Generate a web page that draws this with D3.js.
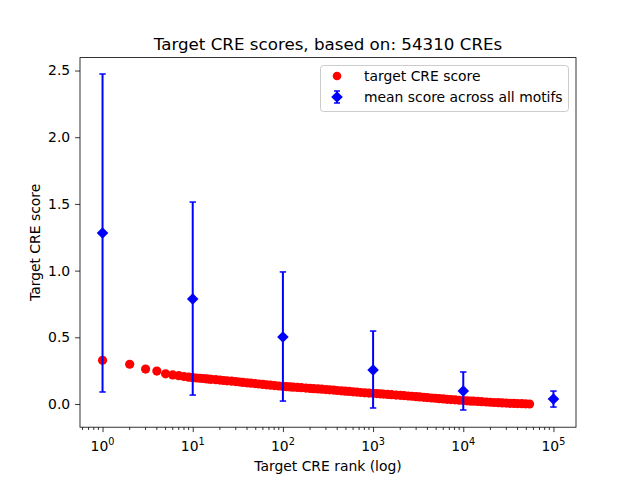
<!DOCTYPE html>
<html>
<head>
<meta charset="utf-8">
<script src="https://cdn.jsdelivr.net/npm/d3@7"></script>
<style>
  body { margin: 0; background: #fff; }
  text { font-family: "DejaVu Sans", sans-serif; fill: #000; }
</style>
</head>
<body>
<div id="chart"></div>
<script>
const ranks = [1, 2, 3, 4, 5, 6, 7, 8, 9,
  10, 11, 12, 13, 14, 15, 16, 18, 20, 22, 24, 27, 30, 33, 36, 40, 44, 49, 54, 60, 66, 73, 81, 90,
  100, 110, 120, 130, 145, 160, 180, 200, 220, 245, 270, 300, 330, 365, 400, 445, 490, 540, 600, 660, 730, 810, 900,
  1000, 1100, 1200, 1300, 1450, 1600, 1800, 2000, 2200, 2450, 2700, 3000, 3300, 3650, 4000, 4450, 4900, 5400, 6000, 6600, 7300, 8100, 9000,
  10000, 11000, 12000, 13000, 14500, 16000, 18000, 20000, 22000, 24500, 27000, 30000, 33000, 36500, 40000, 44500, 49000, 54310];
const scores = [0.328, 0.298, 0.262, 0.247, 0.226, 0.218, 0.212, 0.206, 0.201,
  0.197, 0.195, 0.193, 0.191, 0.189, 0.187, 0.185, 0.182, 0.179, 0.176, 0.174, 0.171, 0.168, 0.165, 0.162, 0.159, 0.156, 0.153, 0.150, 0.147, 0.144, 0.141, 0.138, 0.135,
  0.132, 0.130, 0.128, 0.126, 0.124, 0.122, 0.119, 0.117, 0.115, 0.113, 0.111, 0.108, 0.106, 0.104, 0.101, 0.099, 0.096, 0.094, 0.091, 0.089, 0.086, 0.084, 0.082,
  0.080, 0.078, 0.076, 0.074, 0.072, 0.070, 0.067, 0.065, 0.063, 0.060, 0.058, 0.055, 0.053, 0.050, 0.048, 0.045, 0.043, 0.040, 0.038, 0.035, 0.033, 0.031, 0.028,
  0.026, 0.024, 0.022, 0.021, 0.019, 0.017, 0.015, 0.013, 0.011, 0.010, 0.008, 0.007, 0.005, 0.004, 0.003, 0.002, 0.001, 0.000];

// mean score across all motifs with error bars
const meanRanks = [1, 10, 100, 1000, 10000, 100000];
const meanScores = [1.282, 0.787, 0.502, 0.255, 0.097, 0.037];
const errLow = [0.090, 0.067, 0.022, -0.030, -0.045, -0.023];
const errHigh = [2.474, 1.514, 0.990, 0.547, 0.240, 0.097];

const yTicks = [0.0, 0.5, 1.0, 1.5, 2.0, 2.5];
const xTicks = [1, 10, 100, 1000, 10000, 100000];

const width = 640, height = 480;
const margin = {top: 57.6, right: 64, bottom: 52.8, left: 80};

const svg = d3.select('#chart')
  .append('svg')
  .attr('width', width)
  .attr('height', height);

svg.append('rect').attr('width', width).attr('height', height).attr('fill', '#fff');

const x = d3.scaleLog()
  .domain([Math.pow(10, -0.25), Math.pow(10, 5.25)])
  .range([margin.left, width - margin.right]);

const y = d3.scaleLinear()
  .domain([-0.174, 2.597])
  .range([height - margin.bottom, margin.top]);

const bottom = height - margin.bottom;

// x axis: major ticks with 10^n labels, plus minor ticks
const minor = [];
for (let e = -1; e <= 5; e++) {
  for (let m = 2; m <= 9; m++) {
    const v = m * Math.pow(10, e);
    if (v >= x.domain()[0] && v <= x.domain()[1]) minor.push(v);
  }
}
svg.append('g').selectAll('line')
  .data(minor)
  .enter().append('line')
  .attr('x1', d => x(d)).attr('x2', d => x(d))
  .attr('y1', bottom).attr('y2', bottom + 2.8)
  .attr('stroke', '#000').attr('stroke-width', 0.8);

const xAxis = svg.append('g')
  .attr('transform', `translate(0,${bottom})`)
  .call(d3.axisBottom(x).tickValues(xTicks).tickSize(4.9).tickFormat(''));
xAxis.select('.domain').remove();
xAxis.selectAll('.tick line').attr('stroke-width', 0.8);

const xLab = svg.append('g').selectAll('text')
  .data(xTicks)
  .enter().append('text')
  .attr('x', d => x(d))
  .attr('y', bottom + 24)
  .attr('text-anchor', 'middle')
  .style('font-size', '13.9px');
xLab.append('tspan').text('10');
xLab.append('tspan')
  .attr('dy', -6)
  .style('font-size', '9.7px')
  .text((d, i) => String(i));

// y axis
const yAxis = svg.append('g')
  .attr('transform', `translate(${margin.left},0)`)
  .call(d3.axisLeft(y).tickValues(yTicks).tickSize(4.9).tickPadding(4.9).tickFormat(d3.format('.1f')));
yAxis.select('.domain').remove();
yAxis.selectAll('.tick line').attr('stroke-width', 0.8);
yAxis.selectAll('.tick text')
  .style('font-size', '13.9px')
  .style('font-family', '"DejaVu Sans", sans-serif');

// frame
svg.append('rect')
  .attr('x', margin.left).attr('y', margin.top)
  .attr('width', width - margin.left - margin.right)
  .attr('height', height - margin.top - margin.bottom)
  .attr('fill', 'none').attr('stroke', '#000').attr('stroke-width', 0.8);

// red points
svg.append('g').selectAll('circle')
  .data(ranks)
  .enter().append('circle')
  .attr('cx', d => x(d))
  .attr('cy', (d, i) => y(scores[i]))
  .attr('r', 4.6)
  .attr('fill', 'red');

// error bars
const eb = svg.append('g');
eb.selectAll('.bar')
  .data(meanRanks)
  .enter().append('line')
  .attr('x1', d => x(d)).attr('x2', d => x(d))
  .attr('y1', (d, i) => y(errLow[i]))
  .attr('y2', (d, i) => y(errHigh[i]))
  .attr('stroke', 'blue').attr('stroke-width', 2);
[errLow, errHigh].forEach(arr => {
  eb.selectAll(null)
    .data(meanRanks)
    .enter().append('line')
    .attr('x1', d => x(d) - 3.2).attr('x2', d => x(d) + 3.2)
    .attr('y1', (d, i) => y(arr[i]))
    .attr('y2', (d, i) => y(arr[i]))
    .attr('stroke', 'blue').attr('stroke-width', 1.5);
});
const diamond = 'M0,-5.8L5.8,0L0,5.8L-5.8,0Z';
eb.selectAll('path')
  .data(meanRanks)
  .enter().append('path')
  .attr('d', diamond)
  .attr('transform', (d, i) => `translate(${x(d)},${y(meanScores[i])})`)
  .attr('fill', 'blue');

// title and labels
svg.append('text')
  .attr('x', (margin.left + width - margin.right) / 2)
  .attr('y', 50)
  .attr('text-anchor', 'middle')
  .style('font-size', '16.7px')
  .text('Target CRE scores, based on: 54310 CREs');

svg.append('text')
  .attr('x', (margin.left + width - margin.right) / 2)
  .attr('y', 471)
  .attr('text-anchor', 'middle')
  .style('font-size', '13.9px')
  .text('Target CRE rank (log)');

svg.append('text')
  .attr('transform', `translate(40,${(margin.top + bottom) / 2}) rotate(-90)`)
  .attr('text-anchor', 'middle')
  .style('font-size', '13.9px')
  .text('Target CRE score');

// legend
const lg = svg.append('g');
lg.append('rect')
  .attr('x', 320.5).attr('y', 65.5)
  .attr('width', 248).attr('height', 46)
  .attr('rx', 3)
  .attr('fill', '#fff').attr('fill-opacity', 0.8)
  .attr('stroke', '#ccc').attr('stroke-width', 1);
lg.append('circle').attr('cx', 337).attr('cy', 76).attr('r', 4.3).attr('fill', 'red');
lg.append('line').attr('x1', 337).attr('x2', 337).attr('y1', 91).attr('y2', 103)
  .attr('stroke', 'blue').attr('stroke-width', 2);
lg.append('line').attr('x1', 334).attr('x2', 340).attr('y1', 91).attr('y2', 91)
  .attr('stroke', 'blue').attr('stroke-width', 1.5);
lg.append('line').attr('x1', 334).attr('x2', 340).attr('y1', 103).attr('y2', 103)
  .attr('stroke', 'blue').attr('stroke-width', 1.5);
lg.append('path').attr('d', diamond).attr('transform', 'translate(337,97)').attr('fill', 'blue');
lg.append('text').attr('x', 364).attr('y', 81).style('font-size', '13.9px').text('target CRE score');
lg.append('text').attr('x', 364).attr('y', 102).style('font-size', '13.9px').text('mean score across all motifs');
</script>
</body>
</html>
